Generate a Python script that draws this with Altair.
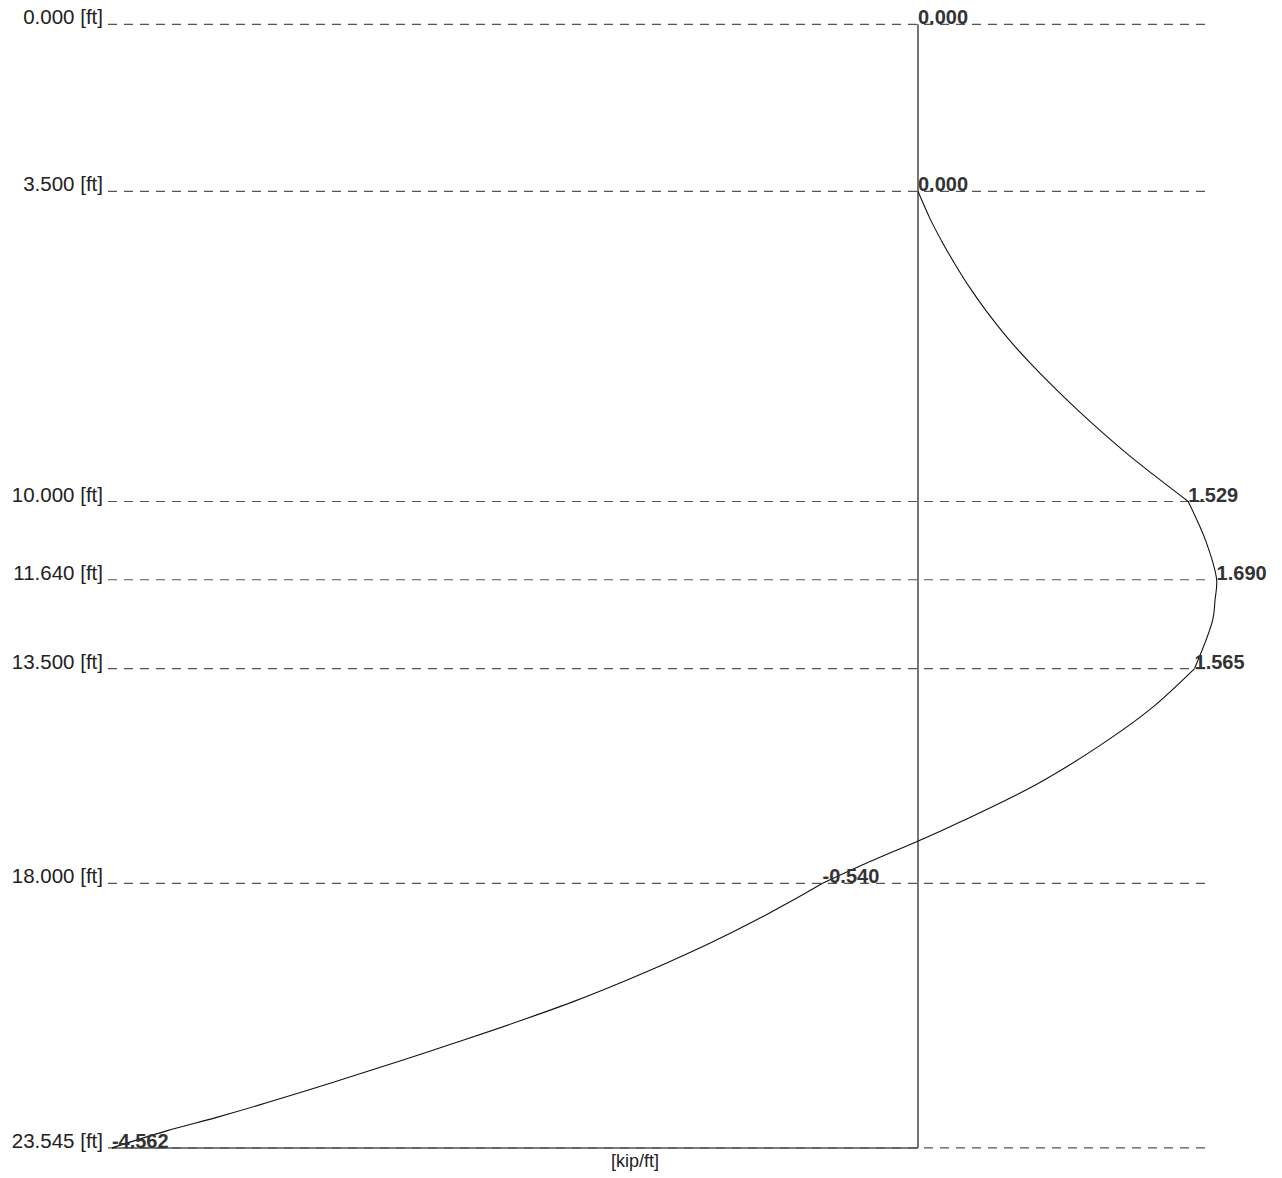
import altair as alt
import pandas as pd

# Depth levels (ft) with their labels and the values (kip/ft) at those levels
level_depth = [0.0, 3.5, 10.0, 11.64, 13.5, 18.0, 23.545]
level_depth_label = ["0.000 [ft]", "3.500 [ft]", "10.000 [ft]", "11.640 [ft]",
                     "13.500 [ft]", "18.000 [ft]", "23.545 [ft]"]
level_value = [0.0, 0.0, 1.529, 1.690, 1.565, -0.540, -4.562]
level_value_label = ["0.000", "0.000", "1.529", "1.690", "1.565", "-0.540", "-4.562"]

# Pressure curve
curve_depth = [3.5, 4.072, 4.602, 5.084, 5.524, 6.021, 6.549, 7.096, 7.594, 8.066,
               8.510, 8.992, 9.438, 10.0, 10.84, 11.64, 12.064, 12.48, 13.5, 14.357,
               15.136, 15.924, 16.815, 17.098, 17.638, 18.0, 18.389, 18.803, 19.222, 19.671,
               20.031, 20.480, 20.882, 21.262, 21.723, 22.169, 22.601, 22.905, 23.188, 23.545]
curve_value = [0.0, 0.068, 0.143, 0.219, 0.294, 0.389, 0.502, 0.634, 0.766, 0.898,
               1.030, 1.181, 1.332, 1.529, 1.63, 1.690, 1.681, 1.668, 1.565, 1.313,
               1.020, 0.672, 0.181, 0.011, -0.328, -0.540, -0.724, -0.932, -1.158, -1.422,
               -1.649, -1.951, -2.252, -2.554, -2.932, -3.309, -3.686, -3.969, -4.252, -4.562]

# Layer boundaries where the diagram has corners
segment_breaks = [10.0, 13.5, 18.0]

unit_label = "[kip/ft]"

levels = pd.DataFrame({
    "depth": level_depth,
    "depth_label": level_depth_label,
    "value": level_value,
    "value_label": level_value_label,
})

rows = []
for i, (d, v) in enumerate(zip(curve_depth, curve_value)):
    seg = sum(1 for b in segment_breaks if d > b)
    rows.append({"depth": d, "value": v, "idx": i, "seg": seg})
    if d in segment_breaks:
        rows.append({"depth": d, "value": v, "idx": i, "seg": seg + 1})
curve = pd.DataFrame(rows)

W, H = 1282, 1178
xs = alt.Scale(domain=[-5.1952, 2.0600], nice=False, zero=False)
ys = alt.Scale(domain=[-0.5092, 24.176], reverse=True, nice=False, zero=False)

FONT = "Liberation Sans"

dashed = alt.Chart(levels).mark_rule(
    color="#555555", strokeWidth=1.2, strokeDash=[9, 7]
).encode(
    y=alt.Y("depth:Q", scale=ys, axis=None),
    x=alt.value(108), x2=alt.value(1210),
)

base_df = pd.DataFrame({"top": [0.0], "bottom": [23.545], "zero": [0.0], "minv": [-4.562]})

vline = alt.Chart(base_df).mark_rule(color="#666666", strokeWidth=1.8).encode(
    x=alt.X("zero:Q", scale=xs, axis=None),
    y=alt.Y("top:Q", scale=ys, axis=None),
    y2="bottom:Q",
)

baseline = alt.Chart(base_df).mark_rule(color="#555555", strokeWidth=1.5).encode(
    x=alt.X("minv:Q", scale=xs, axis=None),
    x2="zero:Q",
    y=alt.Y("bottom:Q", scale=ys, axis=None),
)

line = alt.Chart(curve).mark_line(
    color="#111111", strokeWidth=1.1, interpolate="catmull-rom"
).encode(
    x=alt.X("value:Q", scale=xs, axis=None),
    y=alt.Y("depth:Q", scale=ys, axis=None),
    detail="seg:N",
    order="idx:Q",
)

depth_text = alt.Chart(levels).mark_text(
    align="right", baseline="alphabetic", font=FONT, fontSize=20.5, color="#222222"
).encode(
    x=alt.value(103),
    y=alt.Y("depth:Q", scale=ys, axis=None),
    text="depth_label:N",
)

value_text = alt.Chart(levels).mark_text(
    align="left", baseline="alphabetic", font=FONT, fontSize=20,
    fontWeight="bold", color="#333333"
).encode(
    x=alt.X("value:Q", scale=xs, axis=None),
    y=alt.Y("depth:Q", scale=ys, axis=None),
    text="value_label:N",
)

unit_text = alt.Chart(pd.DataFrame({"t": [unit_label]})).mark_text(
    align="center", baseline="alphabetic", font=FONT, fontSize=18, color="#222222"
).encode(
    x=alt.value(635), y=alt.value(1167), text="t:N",
)

chart = alt.layer(dashed, vline, baseline, line, depth_text, value_text, unit_text).properties(
    width=W, height=H,
    autosize=alt.AutoSizeParams(type="none"),
    padding={"left": 0, "right": 0, "top": 0, "bottom": 0},
    background="white",
).configure_view(stroke=None)

chart.save("out.html", embed_options={"renderer": "svg", "actions": False})
